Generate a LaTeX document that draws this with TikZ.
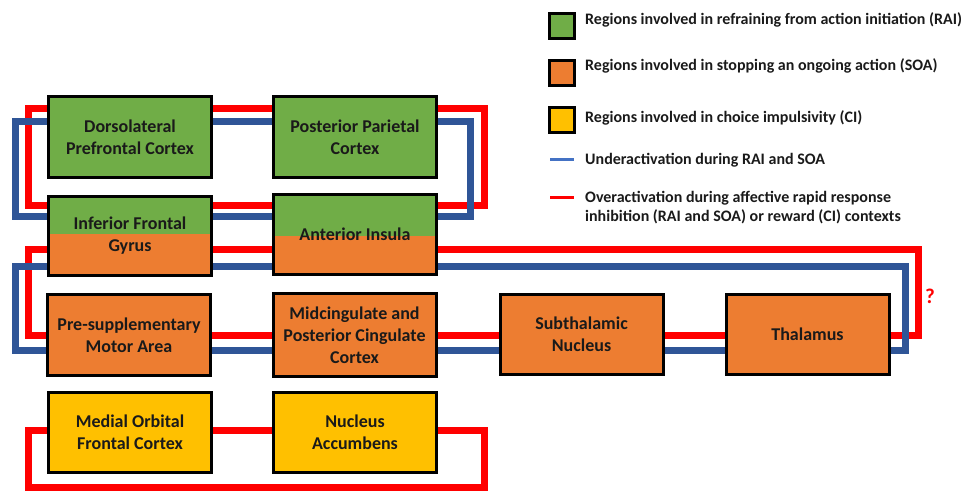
\documentclass[tikz,border=0pt]{standalone}
\usepackage{fontspec}
\setmainfont{Carlito}
\usetikzlibrary{backgrounds}
\definecolor{cgreen}{HTML}{70AD47}
\definecolor{corange}{HTML}{ED7D31}
\definecolor{cyellow}{HTML}{FFC000}
\definecolor{cred}{HTML}{FF0000}
\definecolor{cblue}{HTML}{2F5597}
\definecolor{lblue}{HTML}{4472C4}
\definecolor{ctext}{HTML}{1A1A1A}
\begin{document}
\begin{tikzpicture}[x=1pt,y=-1pt,
  region/.style={draw=black, line width=3pt, minimum width=163pt, minimum height=81pt,
    align=center, inner sep=0pt, text=ctext, font=\fontsize{18}{22}\selectfont\bfseries},
  redloop/.style={draw=cred, line width=7pt},
  blueloop/.style={draw=cblue, line width=7pt},
  legsq/.style={draw=black, line width=3pt, minimum size=25pt, inner sep=0pt},
  legtext/.style={anchor=base west, inner sep=0pt, align=left, text=ctext, font=\fontsize{16}{19.7}\selectfont\bfseries},
  legline/.style={line width=3pt}
]
\useasboundingbox (0,0) rectangle (965,491);

% regions
\node[region, fill=cgreen] (dlpfc) at (130,137) {Dorsolateral\\Prefrontal Cortex};
\node[region, fill=cgreen] (ppc) at (355,137) {Posterior Parietal\\Cortex};
\node[region, fill=cgreen, minimum height=79pt,
  path picture={\fill[corange] ([yshift=2pt]path picture bounding box.west) rectangle (path picture bounding box.south east);}]
  (ifg) at (130,236) {Inferior Frontal\\Gyrus};
\node[region, fill=cgreen, minimum height=80pt,
  path picture={\fill[corange] ([yshift=-1.5pt]path picture bounding box.west) rectangle (path picture bounding box.south east);}]
  (ai) at (355,234.5) {Anterior Insula};
\node[region, fill=corange] (presma) at (129,335) {Pre-supplementary\\Motor Area};
\node[region, fill=corange, minimum height=83pt] (mcc) at (354.5,335) {Midcingulate and\\Posterior Cingulate\\Cortex};
\node[region, fill=corange, minimum height=80pt] (stn) at (581.5,334.5) {Subthalamic\\Nucleus};
\node[region, fill=corange, minimum height=80pt] (thal) at (807.5,334.5) {Thalamus};
\node[region, fill=cyellow, minimum height=80pt] (mofc) at (130,432.5) {Medial Orbital\\Frontal Cortex};
\node[region, fill=cyellow, minimum height=80pt] (nacc) at (355,432.5) {Nucleus\\Accumbens};

\node[text=cred, font=\fontsize{21}{22}\selectfont\bfseries, inner sep=0pt] (q) at (930,296) {?};

% loop corners
\coordinate (rtA) at (28,108);   \coordinate (rtB) at (484,205);
\coordinate (btA) at (15,121);   \coordinate (btB) at (470,216);
\coordinate (rmA) at (28,249.5); \coordinate (rmB) at (918,335);
\coordinate (bmA) at (15,266.5); \coordinate (bmB) at (905,350);
\coordinate (rbA) at (28.5,430); \coordinate (rbB) at (484,487.5);

\begin{scope}[on background layer]
  \draw[redloop] (rtA) rectangle (rtB);
  \draw[redloop] (rmA) rectangle (rmB);
  \draw[redloop] (rbA) rectangle (rbB);
  \draw[blueloop] (btA) rectangle (btB);
  \draw[blueloop] (bmA) rectangle (bmB);
\end{scope}

% legend
\node[legsq, fill=cgreen] (lg1) at (562,25.5) {};
\node[legsq, fill=corange] (lg2) at (562,73) {};
\node[legsq, fill=cyellow] (lg3) at (562,119.5) {};
\coordinate (lb1) at (550,159); \coordinate (lb2) at (574,159);
\coordinate (lr1) at (550,197); \coordinate (lr2) at (574,197);
\draw[legline, draw=lblue] (lb1) -- (lb2);
\draw[legline, draw=cred] (lr1) -- (lr2);
\node[legtext] (t1) at (585,24) {Regions involved in refraining from action initiation (RAI)};
\node[legtext] (t2) at (585,70.7) {Regions involved in stopping an ongoing action (SOA)};
\node[legtext] (t3) at (585,122.7) {Regions involved in choice impulsivity (CI)};
\node[legtext] (t4) at (585,164) {Underactivation during RAI and SOA};
\node[legtext] (t5) at (585,221.7) {Overactivation during affective rapid response\\inhibition (RAI and SOA) or reward (CI) contexts};
\end{tikzpicture}
\end{document}
